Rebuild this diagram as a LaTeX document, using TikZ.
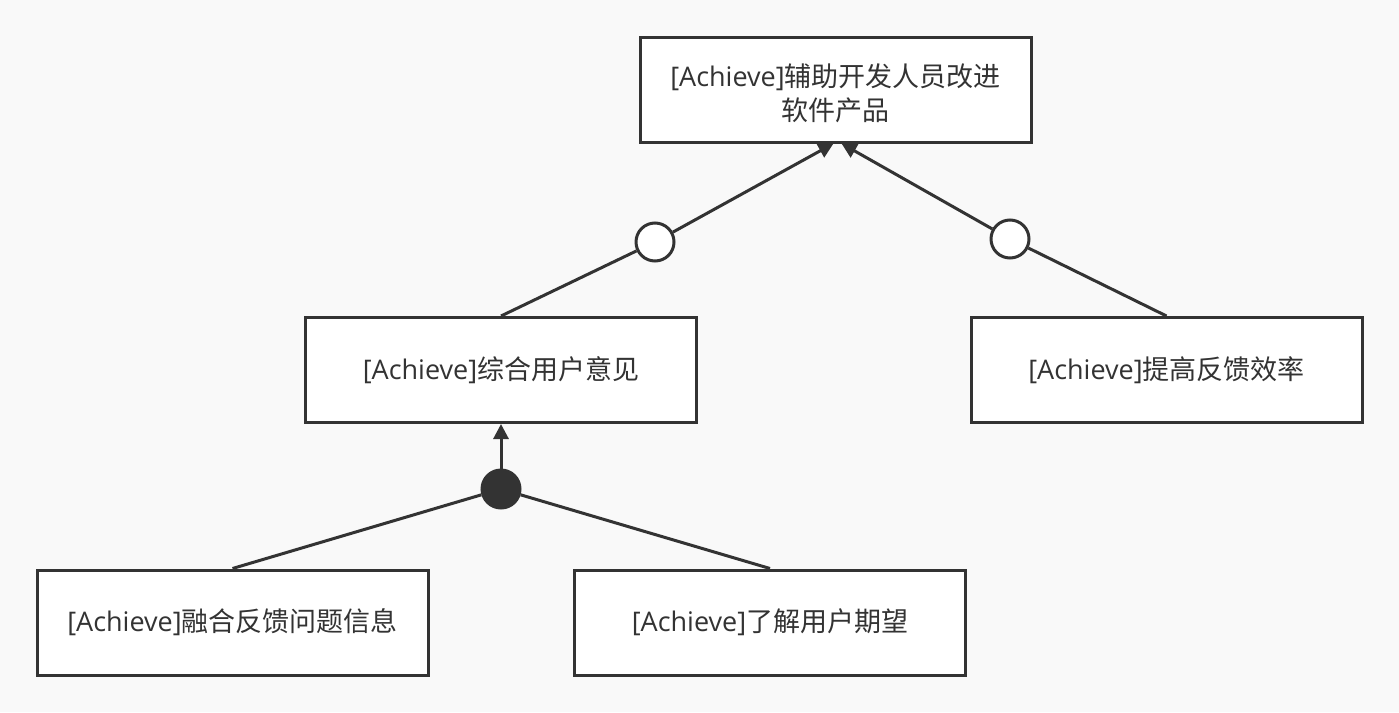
\documentclass[tikz,border=0pt]{standalone}
\usepackage{fontspec}
\usetikzlibrary{arrows.meta}
\newfontfamily\cjk{Noto Sans CJK SC}
\newfontfamily\lat{Open Sans}
\definecolor{ink}{HTML}{333333}
\definecolor{paper}{HTML}{F9F9F9}
\tikzset{
  goal/.style={draw=ink, line width=3pt, fill=white, minimum width=391pt,
    minimum height=105pt, inner sep=0pt, text=ink, align=center,
    font=\fontsize{27}{32}\selectfont\cjk},
  orref/.style={circle, draw=ink, line width=3pt, fill=white, minimum size=38pt, inner sep=0pt},
  andref/.style={circle, draw=ink, line width=3pt, fill=ink, minimum size=38pt, inner sep=0pt},
  link/.style={draw=ink, line width=3pt},
  tip/.style={link, -{Triangle[length=15pt,width=15pt]}},
}
\begin{document}
\begin{tikzpicture}[x=1pt,y=-1pt]
  \fill[paper] (0,0) rectangle (1399,712);
  \useasboundingbox (0,0) rectangle (1399,712);

  % goals
  \node[goal] (top) at (835.5,89.5) {\rule{0pt}{31pt}{\lat [Achieve]}辅助开发人员改进\\[2pt]软件产品};
  \node[goal] (lm) at (501,370) {{\lat [Achieve]}综合用户意见};
  \node[goal] (rm) at (1166.5,370) {{\lat [Achieve]}提高反馈效率};
  \node[goal] (bl) at (232.5,622.5) {{\lat [Achieve]}融合反馈问题信息};
  \node[goal] (br) at (770,622.5) {{\lat [Achieve]}了解用户期望};

  % refinement nodes
  \node[orref] (o1) at (655,242) {};
  \node[orref] (o2) at (1010,239) {};
  \node[andref] (a1) at (501,489) {};

  % OR refinements into the top goal
  \draw[link] (lm.north) -- (o1);
  \draw[tip] (o1) -- ([xshift=-2pt]top.south);
  \draw[link] (rm.north) -- (o2);
  \draw[tip] (o2) -- ([xshift=6pt]top.south);

  % AND refinement into the left goal
  \draw[link] (bl.north) -- (a1);
  \draw[link] (br.north) -- (a1);
  \draw[tip] (a1) -- (lm.south);
\end{tikzpicture}
\end{document}
